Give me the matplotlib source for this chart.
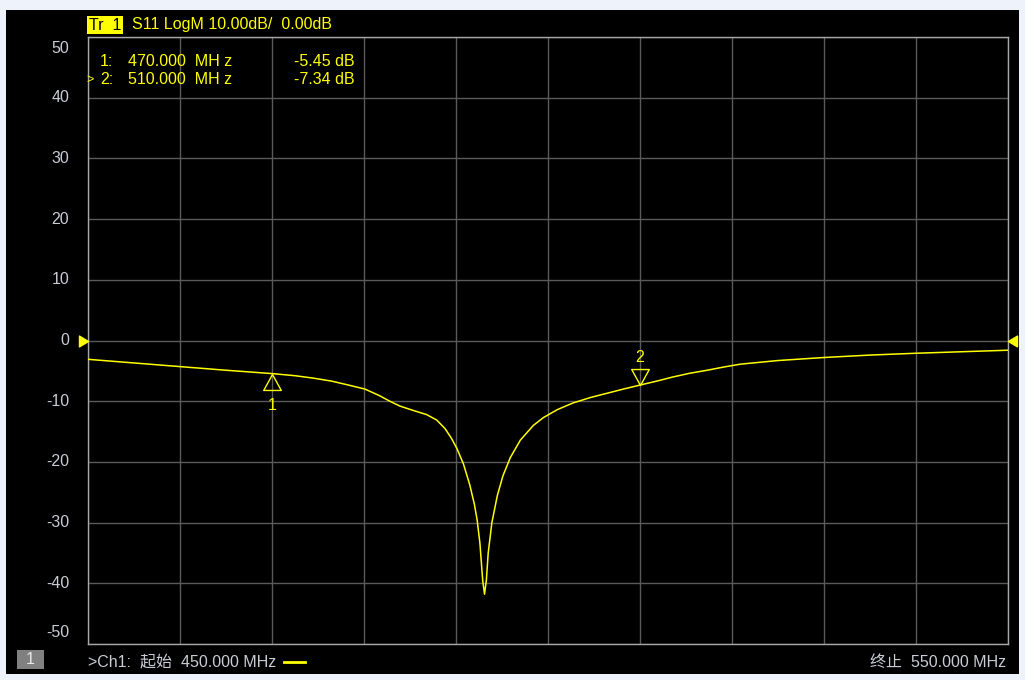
import matplotlib.pyplot as plt
from matplotlib.path import Path
from matplotlib.patches import Rectangle

plt.rcParams['font.family'] = ['Liberation Sans', 'Noto Sans CJK SC', 'DejaVu Sans']

# S11 trace (MHz, dB)
freq = [450.0, 455.0, 460.0, 465.0, 470.0, 472.5, 474.5, 476.5, 478.2, 480.1,
        481.7, 482.8, 483.9, 485.3, 486.8, 487.9, 488.8, 489.5, 490.1, 490.8,
        491.5, 492.0, 492.3, 492.6, 492.9, 493.1, 493.3, 493.5, 493.9, 494.5,
        495.1, 495.9, 497.0, 498.4, 499.5, 501.0, 502.7, 504.6, 506.4, 508.2,
        510.0, 511.8, 513.6, 515.4, 517.3, 519.0, 520.9, 525.0, 530.0, 535.0,
        540.0, 545.0, 550.0]
s11 = [-3.1, -3.7, -4.3, -4.9, -5.45, -5.8, -6.2, -6.7, -7.3, -8.0,
       -9.1, -10.0, -10.8, -11.5, -12.2, -13.1, -14.5, -16.1, -17.8, -20.3,
       -23.8, -27.0, -29.6, -33.4, -39.5, -41.8, -39.5, -35.0, -30.0, -25.5,
       -22.3, -19.3, -16.4, -14.0, -12.7, -11.4, -10.3, -9.4, -8.7, -8.0,
       -7.34, -6.7, -6.0, -5.4, -4.9, -4.4, -3.9, -3.3, -2.8, -2.4,
       -2.1, -1.85, -1.6]

marker_ids = ["1", "2"]
marker_freq = [470.0, 510.0]
marker_val = [-5.45, -7.34]

y_ticks = list(range(-50, 51, 10))
x_ticks = list(range(450, 551, 10))

W, H = 1025, 680
YEL = '#FFFF00'
TXT = '#C8CCD4'


def fx(x):
    return x / W


def fy(y):
    return 1 - y / H


fig = plt.figure(figsize=(W / 100, H / 100), dpi=100, facecolor='#EEF2FA')
fig.patches.append(Rectangle((fx(6), fy(674)), fx(1013), 664 / H,
                             transform=fig.transFigure, facecolor='black',
                             edgecolor='none', zorder=-10))

ax = fig.add_axes([fx(88), fy(644), fx(920), 607 / H])
ax.set_zorder(1)
ax.set_facecolor('black')
ax.set_xlim(450, 550)
ax.set_ylim(-50, 50)
ax.set_xticks(x_ticks)
ax.set_yticks(y_ticks)
ax.grid(True, color='#5A5A5A', linewidth=1)
ax.tick_params(length=0, labelbottom=False, labelleft=False)
for s in ax.spines.values():
    s.set_color('#A8A8A8')
    s.set_linewidth(1)

# y labels, the end ones pulled inside the box like on the instrument
for v in y_ticks:
    dy = -8 if v == 50 else (8.5 if v == -50 else 0)
    ax.annotate(str(v), xy=(0, v), xycoords=('axes fraction', 'data'),
                xytext=(-13.5, dy), textcoords='offset points',
                ha='right', va='center', fontsize=11.5, color=TXT,
                annotation_clip=False)

ax.plot(freq, s11, color=YEL, linewidth=1.1, zorder=3)

# marker triangles with the tip on the trace
up = Path([(0, 0), (-0.55, -1), (0.55, -1), (0, 0)],
          [Path.MOVETO, Path.LINETO, Path.LINETO, Path.CLOSEPOLY])
down = Path([(0, 0), (-0.55, 1), (0.55, 1), (0, 0)],
            [Path.MOVETO, Path.LINETO, Path.LINETO, Path.CLOSEPOLY])
ax.plot(marker_freq[0], marker_val[0], marker=up, markersize=23,
        markerfacecolor='none', markeredgecolor=YEL, markeredgewidth=1, zorder=4)
ax.plot(marker_freq[1], marker_val[1], marker=down, markersize=23,
        markerfacecolor='none', markeredgecolor=YEL, markeredgewidth=1, zorder=4)
ax.annotate(marker_ids[0], (marker_freq[0], marker_val[0]), xytext=(0, -23),
            textcoords='offset points', ha='center', va='center',
            fontsize=11.5, color=YEL)
ax.annotate(marker_ids[1], (marker_freq[1], marker_val[1]), xytext=(0, 19.5),
            textcoords='offset points', ha='center', va='center',
            fontsize=11.5, color=YEL)

# reference level arrows at 0 dB
right_tip = Path([(-1, 0.6), (0, 0), (-1, -0.6), (-1, 0.6)],
                 [Path.MOVETO, Path.LINETO, Path.LINETO, Path.CLOSEPOLY])
left_tip = Path([(1, 0.6), (0, 0), (1, -0.6), (1, 0.6)],
                [Path.MOVETO, Path.LINETO, Path.LINETO, Path.CLOSEPOLY])
ax.plot(450, 0, marker=right_tip, markersize=13, color=YEL, clip_on=False, zorder=5)
ax.plot(550, 0, marker=left_tip, markersize=13, color=YEL, clip_on=False, zorder=5)

# marker readout
rows = [(61, "1:", marker_freq[0], marker_val[0]), (80, "2:", marker_freq[1], marker_val[1])]
for y, lab, f, v in rows:
    fig.text(fx(100), fy(y), lab, color=YEL, fontsize=11.5, va='center', zorder=5)
    fig.text(fx(128), fy(y), f"{f:.3f}  MH z", color=YEL, fontsize=11.5,
             va='center', zorder=5)
    fig.text(fx(355), fy(y), f"{v:.2f} dB", color=YEL, fontsize=11.5,
             va='center', ha='right', zorder=5)
fig.text(fx(86), fy(80), ">", color=YEL, fontsize=9, va='center', zorder=5)

# header
fig.text(fx(89), fy(25), "Tr  1", color='black', fontsize=11.5, va='center',
         bbox=dict(boxstyle='square,pad=0.1', facecolor=YEL, edgecolor='none'))
fig.text(fx(132), fy(25), "S11 LogM 10.00dB/  0.00dB", color=YEL,
         fontsize=11.5, va='center')

# footer
fig.patches.append(Rectangle((fx(17), fy(669)), fx(27), 19 / H,
                             transform=fig.transFigure, facecolor='#808080',
                             edgecolor='none', zorder=-5))
fig.text(fx(30.5), fy(660), "1", color='#E8E8E8', fontsize=11.5,
         ha='center', va='center')
fig.text(fx(88), fy(662), ">Ch1:  起始  450.000 MHz", color=TXT,
         fontsize=11.5, va='center')
fig.lines.append(plt.Line2D([fx(284), fx(305)], [fy(662), fy(662)],
                            transform=fig.transFigure, color=YEL, linewidth=2))
fig.text(fx(1006), fy(662), "终止  550.000 MHz", color=TXT,
         fontsize=11.5, va='center', ha='right')

fig.savefig("out.png", dpi=100, facecolor=fig.get_facecolor())
